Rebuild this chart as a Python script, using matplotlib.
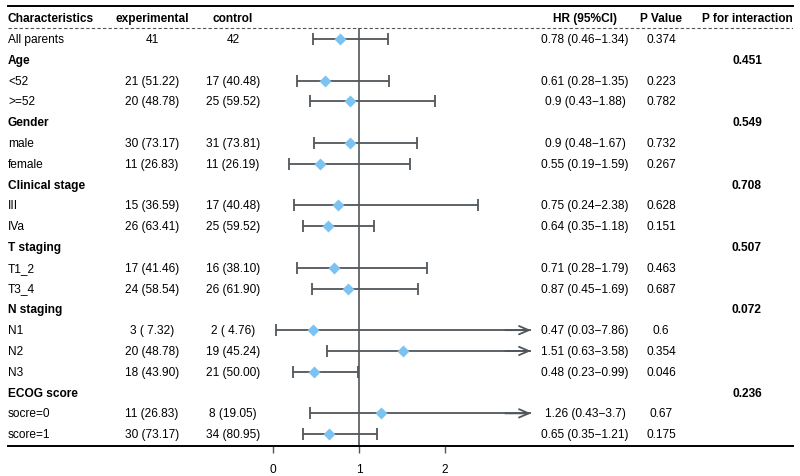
import numpy as np
import matplotlib
matplotlib.use("Agg")
import matplotlib.pyplot as plt
import matplotlib.transforms as mtransforms

plt.rcParams['font.family'] = ['Liberation Sans', 'DejaVu Sans']

# table rows (None = group header row)
labels = ["All parents", "Age", "<52", ">=52", "Gender", "male", "female",
          "Clinical stage", "III", "IVa", "T staging", "T1_2", "T3_4",
          "N staging", "N1", "N2", "N3", "ECOG score", "socre=0", "score=1"]
is_header = [False, True, False, False, True, False, False,
             True, False, False, True, False, False,
             True, False, False, False, True, False, False]
experimental = ["41", "", "21 (51.22)", "20 (48.78)", "", "30 (73.17)", "11 (26.83)",
                "", "15 (36.59)", "26 (63.41)", "", "17 (41.46)", "24 (58.54)",
                "", "3 ( 7.32)", "20 (48.78)", "18 (43.90)", "", "11 (26.83)", "30 (73.17)"]
control = ["42", "", "17 (40.48)", "25 (59.52)", "", "31 (73.81)", "11 (26.19)",
           "", "17 (40.48)", "25 (59.52)", "", "16 (38.10)", "26 (61.90)",
           "", "2 ( 4.76)", "19 (45.24)", "21 (50.00)", "", "8 (19.05)", "34 (80.95)"]
hr = [0.78, None, 0.61, 0.9, None, 0.9, 0.55, None, 0.75, 0.64, None, 0.71, 0.87,
      None, 0.47, 1.51, 0.48, None, 1.26, 0.65]
lower = [0.46, None, 0.28, 0.43, None, 0.48, 0.19, None, 0.24, 0.35, None, 0.28, 0.45,
         None, 0.03, 0.63, 0.23, None, 0.43, 0.35]
upper = [1.34, None, 1.35, 1.88, None, 1.67, 1.59, None, 2.38, 1.18, None, 1.79, 1.69,
         None, 7.86, 3.58, 0.99, None, 3.7, 1.21]
hr_text = ["0.78 (0.46\u22121.34)", "", "0.61 (0.28\u22121.35)", "0.9 (0.43\u22121.88)", "",
           "0.9 (0.48\u22121.67)", "0.55 (0.19\u22121.59)", "", "0.75 (0.24\u22122.38)",
           "0.64 (0.35\u22121.18)", "", "0.71 (0.28\u22121.79)", "0.87 (0.45\u22121.69)", "",
           "0.47 (0.03\u22127.86)", "1.51 (0.63\u22123.58)", "0.48 (0.23\u22120.99)", "",
           "1.26 (0.43\u22123.7)", "0.65 (0.35\u22121.21)"]
p_value = ["0.374", "", "0.223", "0.782", "", "0.732", "0.267", "", "0.628", "0.151", "",
           "0.463", "0.687", "", "0.6", "0.354", "0.046", "", "0.67", "0.175"]
p_inter = ["", "0.451", "", "", "0.549", "", "", "0.708", "", "", "0.507", "", "",
           "0.072", "", "", "", "0.236", "", ""]
xticks = [0, 1, 2]
x_clip = 3.0

W, H = 800, 477
line_col = "#50565c"
dia_col = "#7cc3f2"
fs = 8.6

fig = plt.figure(figsize=(W / 100, H / 100), dpi=100)
left_px, right_px, top_px, bot_px = 8, 793, 7, 447
ax = fig.add_axes([left_px / W, 1 - bot_px / H, (right_px - left_px) / W, (bot_px - top_px) / H])
x0_px, unit_px = 273, 86
ax.set_xlim((left_px - x0_px) / unit_px, (right_px - x0_px) / unit_px)
ax.set_ylim(19.57, -1.587)

for s in ["left", "right"]:
    ax.spines[s].set_visible(False)
ax.spines["top"].set_linewidth(1.4)
ax.spines["bottom"].set_linewidth(1.4)
ax.set_yticks([])
ax.set_xticks(xticks)
ax.set_xticklabels([str(t) for t in xticks], fontsize=fs)
ax.tick_params(axis="x", length=5, width=1, color=line_col, pad=7)

# dashed line under header
ax.axhline(-0.53, color="#555555", lw=0.8, ls=(0, (3, 2)))
# reference line
ax.vlines(1, -0.53, 19.57, color=line_col, lw=1.2)

for i in range(len(labels)):
    if hr[i] is None:
        continue
    hi = min(upper[i], x_clip)
    ax.hlines(i, lower[i], hi, color=line_col, lw=1.3)
    ax.plot(lower[i], i, marker="|", ms=8, mew=1.3, color=line_col)
    if upper[i] > x_clip:
        ax.annotate("", xy=(x_clip, i), xytext=(x_clip - 0.3, i),
                    arrowprops=dict(arrowstyle="->,head_length=0.7,head_width=0.3",
                                    color=line_col, lw=1.3, shrinkA=0, shrinkB=0))
    else:
        ax.plot(upper[i], i, marker="|", ms=8, mew=1.3, color=line_col)
    ax.plot(hr[i], i, marker="D", ms=6.5, color=dia_col, mec="none", zorder=5)

# text columns in figure-x / data-y coordinates
tr = mtransforms.blended_transform_factory(fig.transFigure, ax.transData)
col_x = {"lab": 8, "exp": 152, "ctl": 233, "hr": 585, "p": 661, "pi": 747}
headers = [("Characteristics", "lab", "left"), ("experimental", "exp", "center"),
           ("control", "ctl", "center"), ("HR (95%CI)", "hr", "center"),
           ("P Value", "p", "center"), ("P for interaction", "pi", "center")]
for txt, key, ha in headers:
    ax.text(col_x[key] / W, -1.03, txt, transform=tr, ha=ha, va="center",
            fontsize=fs, fontweight="bold")

for i, lab in enumerate(labels):
    ax.text(col_x["lab"] / W, i, lab, transform=tr, ha="left", va="center", fontsize=fs,
            fontweight="bold" if is_header[i] else "normal")
    ax.text(col_x["exp"] / W, i, experimental[i], transform=tr, ha="center", va="center", fontsize=fs)
    ax.text(col_x["ctl"] / W, i, control[i], transform=tr, ha="center", va="center", fontsize=fs)
    ax.text(col_x["hr"] / W, i, hr_text[i], transform=tr, ha="center", va="center", fontsize=fs)
    ax.text(col_x["p"] / W, i, p_value[i], transform=tr, ha="center", va="center", fontsize=fs)
    ax.text(col_x["pi"] / W, i, p_inter[i], transform=tr, ha="center", va="center",
            fontsize=fs, fontweight="bold")

fig.savefig("out.png", dpi=100)
